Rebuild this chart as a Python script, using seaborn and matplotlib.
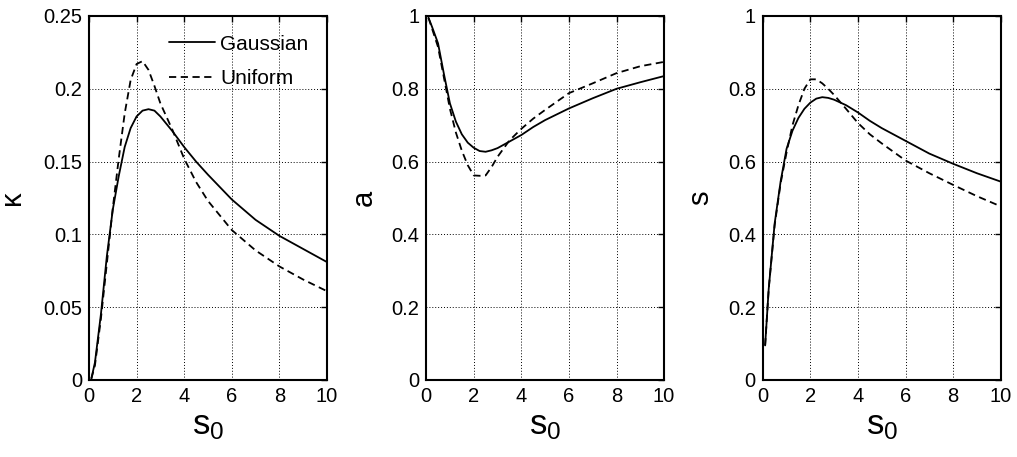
import numpy as np
import pandas as pd
import matplotlib
matplotlib.use('Agg')
import matplotlib.pyplot as plt
import seaborn as sns

# s0 sample points
s0 = [0.1, 0.25, 0.5, 0.75, 1.0, 1.25, 1.5, 1.75, 2.0, 2.25, 2.5, 2.75,
      3.0, 3.5, 4.0, 4.5, 5.0, 6.0, 7.0, 8.0, 9.0, 10.0]

kappa_gauss = [0.001, 0.012, 0.045, 0.085, 0.117, 0.140, 0.160, 0.173, 0.181, 0.185, 0.186, 0.185,
               0.181, 0.171, 0.160, 0.150, 0.141, 0.124, 0.110, 0.099, 0.090, 0.081]
kappa_unif = [0.001, 0.010, 0.042, 0.080, 0.118, 0.152, 0.183, 0.206, 0.217, 0.219, 0.213, 0.202,
              0.190, 0.172, 0.152, 0.136, 0.123, 0.103, 0.089, 0.078, 0.069, 0.061]

a_gauss = [0.995, 0.97, 0.925, 0.84, 0.76, 0.71, 0.675, 0.652, 0.638, 0.629, 0.627, 0.631,
           0.637, 0.655, 0.673, 0.695, 0.714, 0.746, 0.774, 0.800, 0.818, 0.835]
a_unif = [0.995, 0.965, 0.915, 0.83, 0.745, 0.68, 0.63, 0.59, 0.562, 0.561, 0.562, 0.585,
          0.613, 0.658, 0.69, 0.718, 0.742, 0.788, 0.815, 0.843, 0.862, 0.874]

s_gauss = [0.095, 0.25, 0.43, 0.545, 0.635, 0.685, 0.72, 0.745, 0.762, 0.773, 0.777, 0.775,
           0.770, 0.755, 0.735, 0.712, 0.692, 0.657, 0.622, 0.594, 0.568, 0.545]
s_unif = [0.095, 0.25, 0.425, 0.54, 0.625, 0.70, 0.755, 0.80, 0.826, 0.826, 0.815, 0.80,
          0.783, 0.745, 0.706, 0.675, 0.650, 0.603, 0.568, 0.536, 0.505, 0.477]

series_names = ['Gaussian', 'Uniform']
ylabels = ['κ', 'a', 's']
ylims = [0.25, 1, 1]
yticks = [[0, 0.05, 0.1, 0.15, 0.2, 0.25],
          [0, 0.2, 0.4, 0.6, 0.8, 1],
          [0, 0.2, 0.4, 0.6, 0.8, 1]]
ytick_labels = [['0', '0.05', '0.1', '0.15', '0.2', '0.25'],
                ['0', '0.2', '0.4', '0.6', '0.8', '1'],
                ['0', '0.2', '0.4', '0.6', '0.8', '1']]
xticks = [0, 2, 4, 6, 8, 10]

sns.set_theme(style='white')
plt.rcParams['font.family'] = ['Liberation Sans', 'DejaVu Sans']
plt.rcParams['mathtext.fontset'] = 'custom'
plt.rcParams['mathtext.rm'] = 'Liberation Sans'
plt.rcParams['mathtext.it'] = 'Liberation Sans'
plt.rcParams['text.color'] = 'black'
plt.rcParams['axes.labelcolor'] = 'black'
plt.rcParams['xtick.color'] = 'black'
plt.rcParams['ytick.color'] = 'black'

panels = [(kappa_gauss, kappa_unif), (a_gauss, a_unif), (s_gauss, s_unif)]

fig = plt.figure(figsize=(10.17, 4.57), dpi=100)
lefts = [0.0875, 0.419, 0.750]
width = 0.234
bottom = 0.1685
height = 0.7965

for i, (g, u) in enumerate(panels):
    ax = fig.add_axes([lefts[i], bottom, width, height])
    df = pd.DataFrame({
        's0': s0 + s0,
        'val': g + u,
        'dist': [series_names[0]] * len(s0) + [series_names[1]] * len(s0),
    })
    sns.lineplot(data=df, x='s0', y='val', style='dist', color='black',
                 dashes={'Gaussian': '', 'Uniform': (4, 2.5)}, linewidth=1.3,
                 ax=ax, legend=(i == 0), sort=False)
    ax.set_xlim(0, 10)
    ax.set_ylim(0, ylims[i])
    ax.set_xticks(xticks)
    ax.set_xticklabels([str(t) for t in xticks])
    ax.set_yticks(yticks[i])
    ax.set_yticklabels(ytick_labels[i])
    ax.grid(True, color='black', linestyle=(0, (1, 2)), linewidth=0.7)
    ax.tick_params(direction='in', length=4, width=1, top=True, right=True,
                   labelsize=14.5, pad=5, colors='black')
    for sp in ax.spines.values():
        sp.set_visible(True)
        sp.set_color('black')
        sp.set_linewidth(1.5)
    ax.set_xlabel(r'$\mathregular{s_0}$', fontsize=25, labelpad=2, color='black')
    ax.set_ylabel(ylabels[i], fontsize=21, labelpad=12 if i == 0 else 10, color='black')
    if i == 0:
        leg = ax.legend(loc='upper right', frameon=False, fontsize=15,
                        handlelength=2.2, handletextpad=0.25, borderaxespad=0.5,
                        labelspacing=0.75, title=None)
        for t in leg.get_texts():
            t.set_color('black')

fig.savefig('out.png', dpi=100)
